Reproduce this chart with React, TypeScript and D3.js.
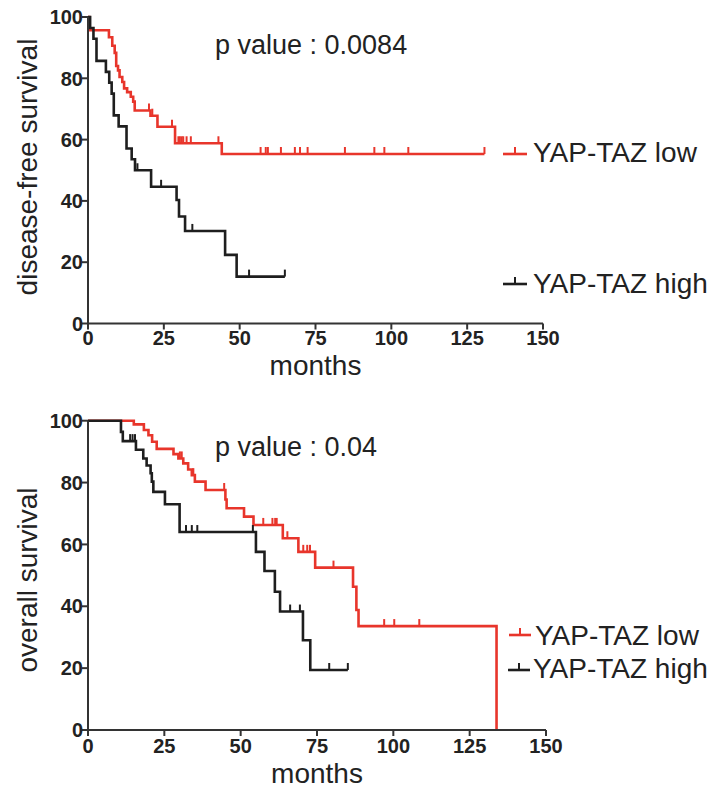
import React from "react";
import * as d3 from "d3";

// ---------- DATA ----------
const xTicks = [0, 25, 50, 75, 100, 125, 150];
const yTicks = [0, 20, 40, 60, 80, 100];

// Top panel: disease-free survival
const dfsLowSteps: [number, number][] = [
  [0.4, 95.7], [6.9, 93.4], [8.0, 90.6], [8.8, 88.3], [9.3, 84.0], [9.9, 82.6],
  [10.4, 80.4], [11.3, 78.8], [11.9, 76.7], [12.9, 75.5], [14.1, 74.0], [14.9, 72.4],
  [15.4, 69.5], [20.6, 67.8], [22.9, 64.2], [28.7, 58.8], [44.1, 55.3],
];
const dfsLowEnd = 130.7;
const dfsLowCensor = [20.1, 21.2, 27.7, 29.8, 30.3, 30.9, 31.4, 32.5, 33.9, 43.0,
  56.9, 58.6, 59.3, 63.6, 68.2, 69.9, 72.4, 84.7, 94.4, 97.7, 105.6, 130.7];

const dfsHighSteps: [number, number][] = [
  [0.7, 96.4], [1.8, 92.9], [2.8, 85.7], [5.9, 82.1], [7.0, 78.6], [7.8, 75.0],
  [8.5, 67.9], [10.1, 64.3], [12.7, 57.1], [14.4, 53.6], [15.5, 50.0], [20.8, 44.6],
  [29.2, 40.3], [30.0, 34.9], [32.0, 30.2], [45.2, 22.4], [49.0, 15.3],
];
const dfsHighEnd = 64.9;
const dfsHighCensor = [16.3, 24.1, 34.4, 53.1, 64.9];

// Bottom panel: overall survival
const osLowSteps: [number, number][] = [
  [15.0, 98.8], [18.3, 97.0], [19.8, 95.3], [21.0, 93.2], [22.5, 90.9], [28.0, 89.2],
  [29.6, 87.8], [31.2, 86.2], [32.8, 84.2], [34.0, 82.4], [35.0, 80.3], [38.5, 77.6],
  [45.0, 74.5], [45.4, 71.7], [51.1, 69.0], [54.2, 66.3], [63.8, 62.0], [68.9, 57.6],
  [74.4, 52.5], [86.8, 46.3], [87.9, 38.8], [88.6, 33.6], [133.8, 0],
];
const osLowEnd = 133.8;
const osLowCensor = [30.1, 30.7, 34.5, 44.6, 57.4, 60.4, 61.3, 61.8, 65.3, 70.5, 71.8,
  72.7, 80.4, 97.0, 100.3, 108.5];

const osHighSteps: [number, number][] = [
  [10.8, 96.4], [11.4, 93.4], [15.7, 90.6], [18.1, 87.8], [19.2, 85.5], [20.5, 83.0],
  [20.9, 80.3], [21.4, 77.0], [25.2, 73.0], [30.0, 64.0], [55.0, 57.6], [57.8, 51.4],
  [61.2, 44.7], [62.9, 38.3], [70.4, 29.0], [72.8, 19.4],
];
const osHighEnd = 85.1;
const osHighCensor = [13.8, 14.6, 15.4, 32.1, 34.0, 35.8, 54.0, 66.2, 69.4, 79.0, 85.1];

const legendLabels = ["YAP-TAZ low", "YAP-TAZ high"];
const RED = "#e8352b";
const BLACK = "#1e1e1e";
const AXIS = "#333333";
const FONT = "'Liberation Sans', Arial, Helvetica, sans-serif";

type Curve = { steps: [number, number][]; end: number; censor: number[]; color: string };

function levelAt(steps: [number, number][], t: number) {
  let s = 100;
  for (const [tt, v] of steps) if (tt <= t) s = v;
  return s;
}

function Panel(props: {
  top: number; bottom: number; xRight: number; curves: Curve[]; tickOffset: number;
  yTitle: string; yTitleCenter: number; pText: string; pY: number; monthsY: number;
  legends: { y: number; textY: number; x0: number; x1: number; tx: number; color: string; label: string }[];
}) {
  const x = d3.scaleLinear().domain([0, 150]).range([88, props.xRight]);
  const y = d3.scaleLinear().domain([0, 100]).range([props.bottom, props.top]);
  const line = d3.line<[number, number]>().x(d => x(d[0])).y(d => y(d[1])).curve(d3.curveStepAfter);
  return (
    <g>
      {props.curves.map((c, i) => {
        const last = c.steps[c.steps.length - 1][1];
        const pts: [number, number][] = [[0, 100], ...c.steps, [c.end, last]];
        return (
          <g key={i}>
            <path d={line(pts) || ""} fill="none" stroke={c.color} strokeWidth={2.6} strokeLinejoin="miter" />
            {c.censor.map((t, j) => {
              const s = levelAt(c.steps, t);
              return <line key={j} x1={x(t)} x2={x(t)} y1={y(s)} y2={y(s) - 7} stroke={c.color} strokeWidth={2} />;
            })}
          </g>
        );
      })}
      {/* axes */}
      <line x1={x(0)} x2={x(0)} y1={y(100)} y2={y(0)} stroke={AXIS} strokeWidth={2} />
      <line x1={x(0)} x2={x(150)} y1={y(0)} y2={y(0)} stroke={AXIS} strokeWidth={2} />
      {yTicks.map(v => (
        <g key={"y" + v}>
          <line x1={x(0) - 6} x2={x(0)} y1={y(v)} y2={y(v)} stroke={AXIS} strokeWidth={2} />
          <text x={x(0) - 5} y={y(v)} dy="0.36em" textAnchor="end" fontFamily={FONT} fontWeight="bold" fontSize={20} fill="#222">{v}</text>
        </g>
      ))}
      {xTicks.map(v => (
        <g key={"x" + v}>
          <line x1={x(v)} x2={x(v)} y1={y(0)} y2={y(0) + 6} stroke={AXIS} strokeWidth={2} />
          <text x={x(v)} y={y(0) + props.tickOffset} textAnchor="middle" fontFamily={FONT} fontWeight="bold" fontSize={20} fill="#222">{v}</text>
        </g>
      ))}
      <text x={(x(0) + x(150)) / 2} y={props.monthsY} textAnchor="middle" fontFamily={FONT} fontSize={28} fill="#222">months</text>
      <text transform={`translate(37,${props.yTitleCenter}) rotate(-90)`} textAnchor="middle" fontFamily={FONT} fontSize={28} fill="#222">{props.yTitle}</text>
      <text x={215} y={props.pY} fontFamily={FONT} fontSize={27} fill="#222">{props.pText}</text>
      {props.legends.map((l, i) => (
        <g key={"l" + i}>
          <line x1={l.x0} x2={l.x1} y1={l.y} y2={l.y} stroke={l.color} strokeWidth={2.6} />
          <line x1={(l.x0 + l.x1) / 2} x2={(l.x0 + l.x1) / 2} y1={l.y} y2={l.y - 7} stroke={l.color} strokeWidth={2} />
          <text x={l.tx} y={l.textY} fontFamily={FONT} fontSize={28} fill="#222">{l.label}</text>
        </g>
      ))}
    </g>
  );
}

export default function App() {
  return (
    <svg width={710} height={789} style={{ position: "absolute", left: 0, top: 0, background: "#fff" }}>
      <Panel
        top={17} bottom={323.5} xRight={543} tickOffset={21}
        curves={[
          { steps: dfsLowSteps, end: dfsLowEnd, censor: dfsLowCensor, color: RED },
          { steps: dfsHighSteps, end: dfsHighEnd, censor: dfsHighCensor, color: BLACK },
        ]}
        yTitle="disease-free survival" yTitleCenter={167}
        pText="p value : 0.0084" pY={54} monthsY={375}
        legends={[
          { y: 154, textY: 162, x0: 503, x1: 527, tx: 533, color: RED, label: legendLabels[0] },
          { y: 284, textY: 293, x0: 503, x1: 527, tx: 533, color: BLACK, label: legendLabels[1] },
        ]}
      />
      <Panel
        top={420.7} bottom={730} xRight={546} tickOffset={23}
        curves={[
          { steps: osLowSteps, end: osLowEnd, censor: osLowCensor, color: RED },
          { steps: osHighSteps, end: osHighEnd, censor: osHighCensor, color: BLACK },
        ]}
        yTitle="overall survival" yTitleCenter={580}
        pText="p value : 0.04" pY={456} monthsY={783}
        legends={[
          { y: 635, textY: 645, x0: 509, x1: 531, tx: 535, color: RED, label: legendLabels[0] },
          { y: 670, textY: 678, x0: 508, x1: 530, tx: 533, color: BLACK, label: legendLabels[1] },
        ]}
      />
    </svg>
  );
}
